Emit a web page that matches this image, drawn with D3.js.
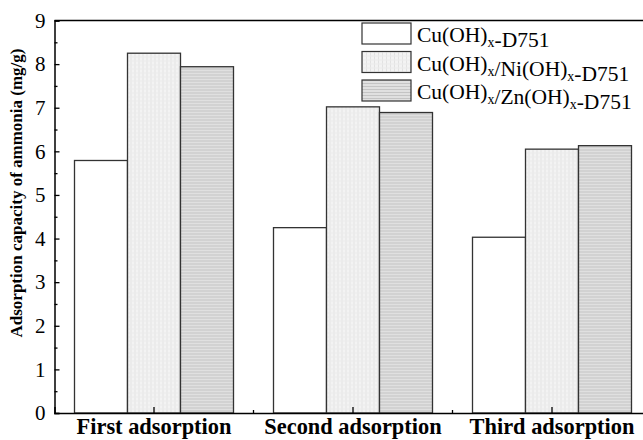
<!DOCTYPE html>
<html>
<head>
<meta charset="utf-8">
<script src="https://cdn.jsdelivr.net/npm/d3@7"></script>
<style>
  body { margin: 0; background: #fff; }
  svg { display: block; }
  text { font-family: "Liberation Serif", "Times New Roman", serif; fill: #000; }
</style>
</head>
<body>
<svg id="chart"></svg>
<script>
const categories = ['First adsorption', 'Second adsorption', 'Third adsorption'];
const seriesNames = ['Cu', 'CuNi', 'CuZn'];
const cuValues = [5.79, 4.25, 4.03];
const cuNiValues = [8.25, 7.02, 6.05];
const cuZnValues = [7.94, 6.89, 6.13];
const yTicks = [0, 1, 2, 3, 4, 5, 6, 7, 8, 9];
// legend labels as [text, subscript] pieces
const legendLabels = [
    [['Cu(OH)', 'x'], ['-D751', '']],
    [['Cu(OH)', 'x'], ['/Ni(OH)', 'x'], ['-D751', '']],
    [['Cu(OH)', 'x'], ['/Zn(OH)', 'x'], ['-D751', '']]
];

const width = 643, height = 440;
const margin = {top: 20.5, left: 54.5, bottom: 27};
const innerW = 597;
const innerH = height - margin.top - margin.bottom;

const svg = d3.select('#chart').attr('width', width).attr('height', height);
const defs = svg.append('defs');

// pattern for Ni: light grid
const pNi = defs.append('pattern').attr('id', 'patNi')
    .attr('patternUnits', 'userSpaceOnUse').attr('width', 4).attr('height', 4);
pNi.append('rect').attr('width', 4).attr('height', 4).attr('fill', '#f3f3f3');
pNi.append('rect').attr('x', 0).attr('width', 1).attr('height', 4).attr('fill', '#e2e2e2');
pNi.append('rect').attr('y', 0).attr('width', 4).attr('height', 1).attr('fill', '#ebebeb');

// pattern for Zn: horizontal lines
const pZn = defs.append('pattern').attr('id', 'patZn')
    .attr('patternUnits', 'userSpaceOnUse').attr('width', 4).attr('height', 3);
pZn.append('rect').attr('width', 4).attr('height', 3).attr('fill', '#e0e0e0');
pZn.append('rect').attr('y', 0).attr('width', 4).attr('height', 1).attr('fill', '#c4c4c4');

const fills = {Cu: '#ffffff', CuNi: 'url(#patNi)', CuZn: 'url(#patZn)'};

const chart = svg.append('g').attr('transform', `translate(${margin.left},${margin.top})`);

const x0 = d3.scaleBand().domain(categories).range([0, innerW]).paddingInner(0).paddingOuter(0);
const x1 = d3.scaleBand().domain(seriesNames).range([20, x0.bandwidth() - 20]);
const y = d3.scaleLinear().domain([0, 9]).range([innerH, 0]);

const data = categories.map((c, i) => ({
    cat: c,
    vals: [
        {key: 'Cu', v: cuValues[i]},
        {key: 'CuNi', v: cuNiValues[i]},
        {key: 'CuZn', v: cuZnValues[i]}
    ]
}));

// bars
chart.selectAll('g.grp').data(data).join('g')
    .attr('class', 'grp')
    .attr('transform', d => `translate(${x0(d.cat)},0)`)
    .selectAll('rect').data(d => d.vals).join('rect')
    .attr('x', d => x1(d.key))
    .attr('y', d => y(d.v))
    .attr('width', x1.bandwidth())
    .attr('height', d => innerH - y(d.v))
    .attr('fill', d => fills[d.key])
    .attr('stroke', '#333')
    .attr('stroke-width', 1.3);

// frame
chart.append('line').attr('x1', 0).attr('x2', innerW).attr('y1', 0).attr('y2', 0)
    .attr('stroke', '#000').attr('stroke-width', 1.5);

// y axis
const yAxis = d3.axisLeft(y).tickValues(yTicks).tickSize(-5).tickPadding(9)
    .tickFormat(d3.format('d'));
const yg = chart.append('g').call(yAxis);
yg.select('.domain').attr('stroke-width', 1.5);
yg.selectAll('.tick line').attr('stroke-width', 1.3);
yg.selectAll('.tick text').style('font-size', '21px')
    .style('font-family', '"Liberation Serif", serif');
const yMinor = d3.axisLeft(y).tickValues(d3.range(0.5, 9, 1)).tickSize(-3).tickFormat('');
const ym = chart.append('g').call(yMinor);
ym.select('.domain').remove();
ym.selectAll('.tick line').attr('stroke-width', 1.3);

// x axis
const xAxis = d3.axisBottom(x0).tickSize(-6).tickPadding(5);
const xg = chart.append('g').attr('transform', `translate(0,${innerH})`).call(xAxis);
xg.select('.domain').attr('stroke-width', 1.5);
xg.selectAll('.tick line').attr('stroke-width', 1.3);
xg.selectAll('.tick text').style('font-size', '22.4px').style('font-weight', 'bold')
    .style('font-family', '"Liberation Serif", serif');
const xm = chart.append('g').attr('transform', `translate(0,${innerH})`);
xm.selectAll('line').data(categories.slice(1)).join('line')
    .attr('x1', d => x0(d)).attr('x2', d => x0(d))
    .attr('y1', 0).attr('y2', -3)
    .attr('stroke', '#000').attr('stroke-width', 1.3);

// y label
svg.append('text')
    .attr('transform', `translate(22,193) rotate(-90)`)
    .attr('text-anchor', 'middle')
    .style('font-size', '17px').style('font-weight', 'bold')
    .text('Adsorption capacity of ammonia (mg/g)');

// legend
const legend = svg.append('g').attr('transform', 'translate(362,23)');
const lg = legend.selectAll('g').data(seriesNames).join('g')
    .attr('transform', (d, i) => `translate(0,${i * 28.5})`);
lg.append('rect').attr('width', 49).attr('height', 21)
    .attr('fill', d => fills[d]).attr('stroke', '#333').attr('stroke-width', 1.2);
const lt = lg.append('text').attr('x', 55).attr('y', 19).style('font-size', '21.5px');
lt.each(function(d, i) {
    const t = d3.select(this);
    legendLabels[i].forEach(([main, sub]) => {
        t.append('tspan').text(main);
        if (sub) {
            t.append('tspan').attr('dy', 5).style('font-size', '14px').text(sub);
            t.append('tspan').attr('dy', -5).text('');
        }
    });
});
</script>
</body>
</html>
